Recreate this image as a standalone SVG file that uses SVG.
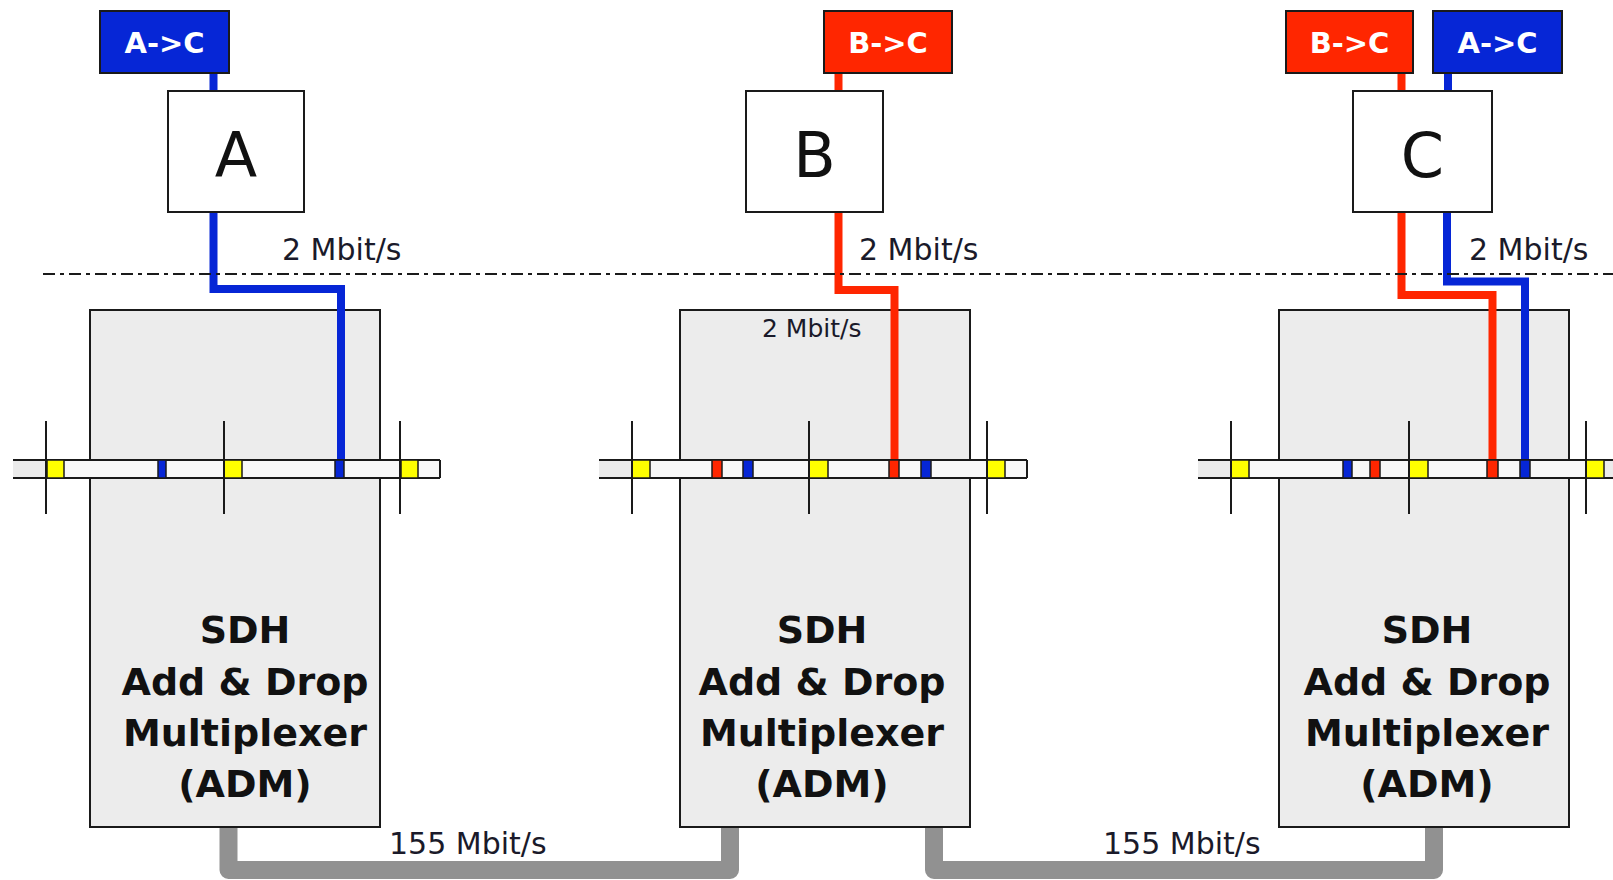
<svg xmlns="http://www.w3.org/2000/svg" width="1613" height="880" viewBox="0 0 1613 880">
<style>
text{font-family:"DejaVu Sans","Liberation Sans",sans-serif;fill:#111}
.lbl{font-weight:bold;font-size:29px;fill:#fff;text-anchor:middle}
.blue{fill:#0626d6;stroke:#1a1a1a;stroke-width:2}
.red{fill:#ff2600;stroke:#1a1a1a;stroke-width:2}
.node{fill:#fff;stroke:#1a1a1a;stroke-width:2}
.big{font-size:62px;text-anchor:middle}
.adm{fill:#ececec;stroke:#1a1a1a;stroke-width:2}
.admt{font-weight:bold;font-size:38px;text-anchor:middle}
.rate{font-size:30px;fill:#1a1a2a}
.small{font-size:25px;fill:#1a1a2a}
.wb{fill:none;stroke:#0626d6;stroke-width:8}
.wr{fill:none;stroke:#ff2600;stroke-width:8}
.pipe{fill:none;stroke:#919191;stroke-width:18;stroke-linejoin:round}
.stripl{fill:#ebebeb;stroke:none}
.edge{stroke:#1a1a1a;stroke-width:2}
.cy{fill:#ffff00;stroke:#1a1a1a;stroke-width:1.5}
.cb{fill:#0626d6;stroke:#1a1a1a;stroke-width:1.5}
.cr{fill:#ff2600;stroke:#1a1a1a;stroke-width:1.5}
.tick{stroke:#1a1a1a;stroke-width:2}
.dd{stroke:#1a1a1a;stroke-width:2;stroke-dasharray:12 5 4 5;fill:none}
</style>

<g id="pipes">
<path class="pipe" d="M228.5,820 V870 H730 V820"/>
<path class="pipe" d="M934,820 V870 H1434 V820"/>
</g>

<g id="adm-a">
<rect class="adm" x="90" y="310" width="290" height="517"/>
<text class="admt" x="245" y="643">SDH</text>
<text class="admt" x="245" y="695">Add &amp; Drop</text>
<text class="admt" x="245" y="746">Multiplexer</text>
<text class="admt" x="245" y="797">(ADM)</text>
</g>
<g id="adm-b">
<rect class="adm" x="680" y="310" width="290" height="517"/>
<text class="admt" x="822" y="643">SDH</text>
<text class="admt" x="822" y="695">Add &amp; Drop</text>
<text class="admt" x="822" y="746">Multiplexer</text>
<text class="admt" x="822" y="797">(ADM)</text>
<text class="small" x="762" y="337">2 Mbit/s</text>
</g>
<g id="adm-c">
<rect class="adm" x="1279" y="310" width="290" height="517"/>
<text class="admt" x="1427" y="643">SDH</text>
<text class="admt" x="1427" y="695">Add &amp; Drop</text>
<text class="admt" x="1427" y="746">Multiplexer</text>
<text class="admt" x="1427" y="797">(ADM)</text>
</g>

<g id="connectors">
<path class="wb" d="M213.5,73 V91 M213.5,212 V289 H341 V460"/>
<path class="wr" d="M838.5,73 V91 M838.5,212 V290 H894.5 V460"/>
<path class="wr" d="M1401.5,73 V91 M1401.5,212 V295 H1492.5 V460"/>
<path class="wb" d="M1448,73 V91 M1447,212 V281.5 H1525 V460"/>
</g>

<g id="separator">
<line class="dd" x1="43" y1="274" x2="1613" y2="274"/>
</g>

<g id="frame-a">
<rect class="stripl" x="13" y="460" width="34" height="18"/>
<rect x="47" y="460" width="393" height="18" fill="#f8f8f8"/>
<line class="edge" x1="13" y1="460" x2="440" y2="460"/>
<line class="edge" x1="13" y1="478" x2="440" y2="478"/>
<line class="edge" x1="440" y1="460" x2="440" y2="478"/>
<rect class="cy" x="47" y="460" width="17" height="18"/>
<rect class="cb" x="158" y="460" width="8" height="18"/>
<rect class="cy" x="224" y="460" width="18" height="18"/>
<rect class="cb" x="335" y="460" width="9" height="18"/>
<rect class="cy" x="401" y="460" width="17" height="18"/>
<line class="tick" x1="46" y1="421" x2="46" y2="514"/>
<line class="tick" x1="224" y1="421" x2="224" y2="514"/>
<line class="tick" x1="400" y1="421" x2="400" y2="514"/>
</g>

<g id="frame-b">
<rect class="stripl" x="599" y="460" width="33" height="18"/>
<rect x="632" y="460" width="395" height="18" fill="#f8f8f8"/>
<line class="edge" x1="599" y1="460" x2="1027" y2="460"/>
<line class="edge" x1="599" y1="478" x2="1027" y2="478"/>
<line class="edge" x1="1027" y1="460" x2="1027" y2="478"/>
<rect class="cy" x="632" y="460" width="18" height="18"/>
<rect class="cr" x="712" y="460" width="10" height="18"/>
<rect class="cb" x="743" y="460" width="10" height="18"/>
<rect class="cy" x="809" y="460" width="19" height="18"/>
<rect class="cr" x="889" y="460" width="10" height="18"/>
<rect class="cb" x="921" y="460" width="10" height="18"/>
<rect class="cy" x="987" y="460" width="18" height="18"/>
<line class="tick" x1="632" y1="421" x2="632" y2="514"/>
<line class="tick" x1="809" y1="421" x2="809" y2="514"/>
<line class="tick" x1="987" y1="421" x2="987" y2="514"/>
</g>

<g id="frame-c">
<rect class="stripl" x="1198" y="460" width="33" height="18"/>
<rect x="1231" y="460" width="382" height="18" fill="#f8f8f8"/>
<rect class="stripl" x="1604" y="460" width="9" height="18"/>
<line class="edge" x1="1198" y1="460" x2="1613" y2="460"/>
<line class="edge" x1="1198" y1="478" x2="1613" y2="478"/>
<rect class="cy" x="1231" y="460" width="18" height="18"/>
<rect class="cb" x="1343" y="460" width="9" height="18"/>
<rect class="cr" x="1370" y="460" width="10" height="18"/>
<rect class="cy" x="1409" y="460" width="19" height="18"/>
<rect class="cr" x="1487" y="460" width="11" height="18"/>
<rect class="cb" x="1520" y="460" width="10" height="18"/>
<rect class="cy" x="1586" y="460" width="18" height="18"/>
<line class="tick" x1="1231" y1="421" x2="1231" y2="514"/>
<line class="tick" x1="1409" y1="421" x2="1409" y2="514"/>
<line class="tick" x1="1586" y1="421" x2="1586" y2="514"/>
</g>

<g id="label-a-ac">
<rect class="blue" x="100" y="11" width="129" height="62"/>
<text class="lbl" x="164.5" y="53">A-&gt;C</text>
</g>
<g id="label-b-bc">
<rect class="red" x="824" y="11" width="128" height="62"/>
<text class="lbl" x="888" y="53">B-&gt;C</text>
</g>
<g id="label-c-bc">
<rect class="red" x="1286" y="11" width="127" height="62"/>
<text class="lbl" x="1349.5" y="53">B-&gt;C</text>
</g>
<g id="label-c-ac">
<rect class="blue" x="1433" y="11" width="129" height="62"/>
<text class="lbl" x="1497.5" y="53">A-&gt;C</text>
</g>

<g id="node-a">
<rect class="node" x="168" y="91" width="136" height="121"/>
<text class="big" x="236" y="177">A</text>
</g>
<g id="node-b">
<rect class="node" x="746" y="91" width="137" height="121"/>
<text class="big" x="814.5" y="177">B</text>
</g>
<g id="node-c">
<rect class="node" x="1353" y="91" width="139" height="121"/>
<text class="big" x="1422.5" y="177">C</text>
</g>

<g id="rates">
<text class="rate" x="282" y="260">2 Mbit/s</text>
<text class="rate" x="859" y="260">2 Mbit/s</text>
<text class="rate" x="1469" y="260">2 Mbit/s</text>
<text class="rate" x="389" y="854">155 Mbit/s</text>
<text class="rate" x="1103" y="854">155 Mbit/s</text>
</g>
</svg>
